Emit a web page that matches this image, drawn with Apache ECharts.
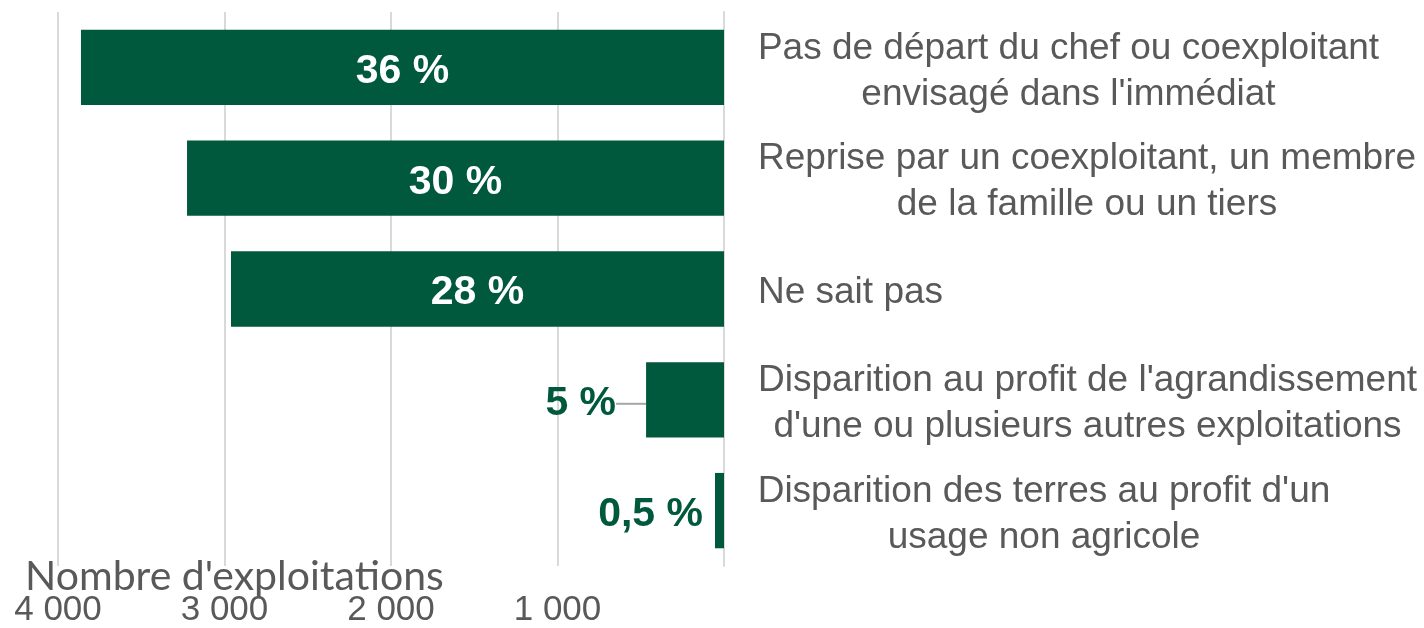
<!DOCTYPE html>
<html><head><meta charset="utf-8">
<script src="https://cdn.jsdelivr.net/npm/echarts@6/dist/echarts.min.js"></script>
<style>html,body{margin:0;padding:0;background:#fff}#c{width:1424px;height:628px}</style>
</head><body><div id="c"></div>
<script>
const categories = [
  "Pas de départ du chef ou coexploitant\nenvisagé dans l'immédiat",
  "Reprise par un coexploitant, un membre\nde la famille ou un tiers",
  "Ne sait pas",
  "Disparition au profit de l'agrandissement\nd'une ou plusieurs autres exploitations",
  "Disparition des terres au profit d'un\nusage non agricole"
];
const values = [3862, 3225, 2961, 468, 54];
const percents = [36, 30, 28, 5, 0.5];
const xTicks = [0, 1000, 2000, 3000, 4000];
const axisTitle = "Nombre d'exploitations";

const catFont = "'Liberation Sans', Arial, sans-serif";
const catSize = 37;
const green = '#00583D';
const grey = '#595959';

// measure widest line of each category to center lines within a left-aligned block
const cv = document.createElement('canvas').getContext('2d');
cv.font = catSize + 'px ' + catFont;
const rich = {};
categories.forEach((c, i) => {
  const w = Math.max(...c.split('\n').map(l => cv.measureText(l).width));
  rich['c' + i] = { width: Math.ceil(w) + 1, align: 'center', fontFamily: catFont, fontSize: catSize, color: grey, lineHeight: 46 };
});

const fmtPct = p => String(p).replace('.', ',') + ' %';
const fmtNum = v => v === 0 ? '' : String(v).replace(/\B(?=(\d{3})+(?!\d))/g, ' ');

const data = values.map((v, i) => {
  const inside = percents[i] >= 10;
  return {
    value: v,
    label: inside ? {
      show: true, position: 'inside', color: '#fff', fontWeight: 'bold',
      fontSize: 41, fontFamily: catFont, formatter: () => fmtPct(percents[i])
    } : {
      show: true, position: 'left', distance: 12, color: green, fontWeight: 'bold',
      fontSize: 41, fontFamily: catFont, formatter: () => fmtPct(percents[i])
    },
    labelLine: { show: i === 3 }
  };
});

const chart = echarts.init(document.getElementById('c'));
chart.setOption({
  animation: false,
  title: {
    text: axisTitle, left: 20, top: 551,
    textStyle: { fontFamily: 'Lato, "Open Sans", sans-serif', fontWeight: 'normal', fontSize: 41, color: grey }
  },
  grid: { left: 58, right: 700, top: 12, bottom: 58, containLabel: false },
  xAxis: {
    type: 'value', inverse: true, min: 0, max: 4000, interval: 1000,
    axisLine: { show: false }, axisTick: { show: false },
    splitLine: { show: true, lineStyle: { color: '#d9d9d9', width: 2 } },
    axisLabel: {
      margin: 27, color: grey, fontSize: 35, fontFamily: catFont,
      formatter: v => fmtNum(v), showMaxLabel: true, showMinLabel: true
    }
  },
  yAxis: {
    type: 'category', data: categories, inverse: true, position: 'right',
    axisLine: { show: true, lineStyle: { color: '#d9d9d9', width: 2 } },
    axisTick: { show: false },
    axisLabel: {
      margin: 33, align: 'left', padding: [8, 0, 0, 0],
      formatter: (val, idx) => val.split('\n').map(l => '{c' + idx + '|' + l + '}').join('\n'),
      rich: rich
    }
  },
  series: [{
    type: 'bar', data: data, barCategoryGap: '32%',
    itemStyle: { color: green },
    labelLine: { show: true, lineStyle: { color: '#a6a6a6', width: 2 } },
    labelLayout: p => ({ dx: p.dataIndex === 3 ? -18 : 0, dy: 4 })
  }]
});
</script></body></html>
